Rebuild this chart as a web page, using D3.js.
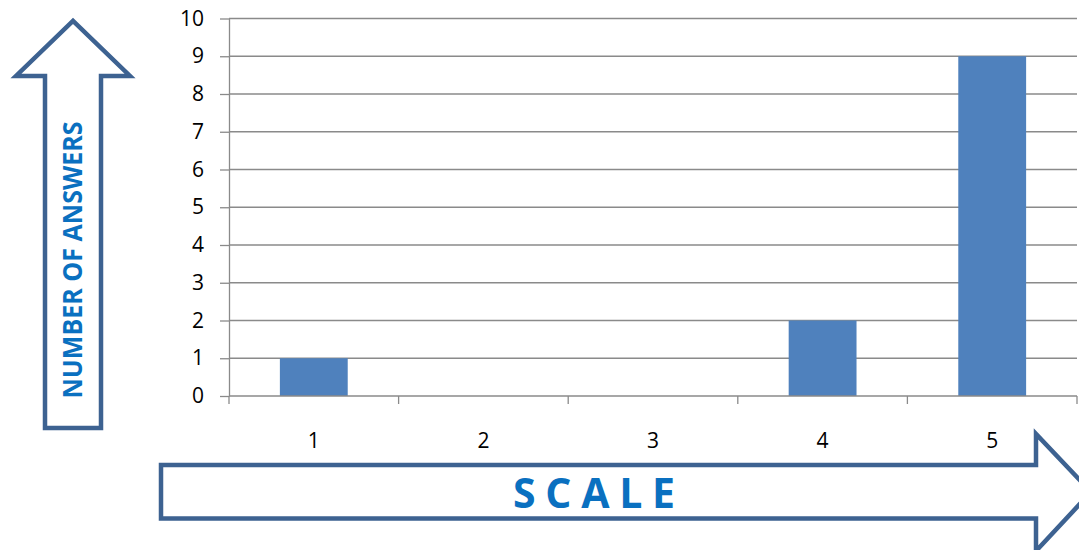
<!DOCTYPE html>
<html>
<head>
<meta charset="utf-8">
<script src="https://cdn.jsdelivr.net/npm/d3@7"></script>
<style>
html,body{margin:0;padding:0;background:#fff;overflow:hidden;}
svg{display:block;}
</style>
</head>
<body>
<svg id="chart" width="1079" height="550"></svg>
<script>
const categories = ["1", "2", "3", "4", "5"];
const answers = [1, 0, 0, 2, 9];
const yTicks = [0, 1, 2, 3, 4, 5, 6, 7, 8, 9, 10];
const yTitle = "NUMBER OF ANSWERS";
const xTitle = "SCALE";

(function () {
const svg = d3.select("#chart");
const plotLeft = 229, plotRight = 1077, plotTop = 18.5, plotBottom = 396;
const gridColor = "#8a8a8a";
const arrowColor = "#3d6291";
const titleColor = "#0a70c0";
const barColor = "#4f81bd";
const font = "'Open Sans', 'Liberation Sans', sans-serif";

const x = d3.scaleBand().domain(categories).range([plotLeft, plotRight]).paddingInner(0.6).paddingOuter(0.3);
const y = d3.scaleLinear().domain([0, 10]).range([plotBottom, plotTop]);

// gridlines
svg.append("g").selectAll("line").data(yTicks.filter(d => d > 0)).join("line")
  .attr("x1", plotLeft).attr("x2", plotRight)
  .attr("y1", d => y(d)).attr("y2", d => y(d))
  .attr("stroke", gridColor).attr("stroke-width", 1.3);

// bars
svg.append("g").selectAll("rect").data(categories.map((c, i) => ({c, v: answers[i]}))).join("rect")
  .attr("x", d => x(d.c))
  .attr("width", x.bandwidth())
  .attr("y", d => y(d.v))
  .attr("height", d => y(0) - y(d.v))
  .attr("fill", barColor);

// y axis
const yAxis = svg.append("g").attr("transform", `translate(${plotLeft},0)`)
  .call(d3.axisLeft(y).tickValues(yTicks).tickSize(9).tickPadding(16).tickSizeOuter(0));
yAxis.select(".domain").attr("stroke", gridColor).attr("stroke-width", 1.3);
yAxis.selectAll(".tick line").attr("stroke", gridColor).attr("stroke-width", 1.3);
yAxis.selectAll(".tick text").attr("font-family", font).attr("font-size", 21).attr("fill", "#000");

// x axis with boundary ticks
const step = x.step();
const boundaries = categories.map((c, i) => plotLeft + i * step);
boundaries.push(plotRight);
svg.append("line").attr("x1", plotLeft).attr("x2", plotRight).attr("y1", plotBottom).attr("y2", plotBottom)
  .attr("stroke", gridColor).attr("stroke-width", 1.3);
svg.append("g").selectAll("line").data(boundaries).join("line")
  .attr("x1", d => d).attr("x2", d => d).attr("y1", plotBottom).attr("y2", plotBottom + 8)
  .attr("stroke", gridColor).attr("stroke-width", 1.3);
svg.append("g").selectAll("text").data(categories).join("text")
  .attr("x", d => x(d) + x.bandwidth() / 2)
  .attr("y", 447.5)
  .attr("text-anchor", "middle")
  .attr("font-family", font).attr("font-size", 21).attr("fill", "#000")
  .text(d => d);

// up arrow (y title)
const upArrow = d3.path();
upArrow.moveTo(45, 428);
upArrow.lineTo(45, 76);
upArrow.lineTo(16, 76);
upArrow.lineTo(73, 21);
upArrow.lineTo(130, 76);
upArrow.lineTo(101, 76);
upArrow.lineTo(101, 428);
upArrow.closePath();
svg.append("path").attr("d", upArrow.toString())
  .attr("fill", "#fff").attr("stroke", arrowColor).attr("stroke-width", 4.5).attr("stroke-linejoin", "miter");

svg.append("text")
  .attr("transform", "translate(81.5,260) rotate(-90)")
  .attr("text-anchor", "middle")
  .attr("font-family", font).attr("font-weight", "bold").attr("font-size", 27)
  .attr("textLength", 277).attr("lengthAdjust", "spacingAndGlyphs")
  .attr("fill", titleColor)
  .text(yTitle);

// right arrow (x title)
const rightArrow = d3.path();
rightArrow.moveTo(161, 465);
rightArrow.lineTo(1036, 465);
rightArrow.lineTo(1036, 434);
rightArrow.lineTo(1091, 492);
rightArrow.lineTo(1036, 551);
rightArrow.lineTo(1036, 518.5);
rightArrow.lineTo(161, 518.5);
rightArrow.closePath();
svg.append("path").attr("d", rightArrow.toString())
  .attr("fill", "#fff").attr("stroke", arrowColor).attr("stroke-width", 4.5).attr("stroke-linejoin", "miter");

svg.append("text")
  .attr("x", 513).attr("y", 507.5)
  .attr("font-family", font).attr("font-weight", "bold").attr("font-size", 41)
  .attr("textLength", 162).attr("lengthAdjust", "spacing")
  .attr("fill", titleColor)
  .text(xTitle);
})();
</script>
</body>
</html>
